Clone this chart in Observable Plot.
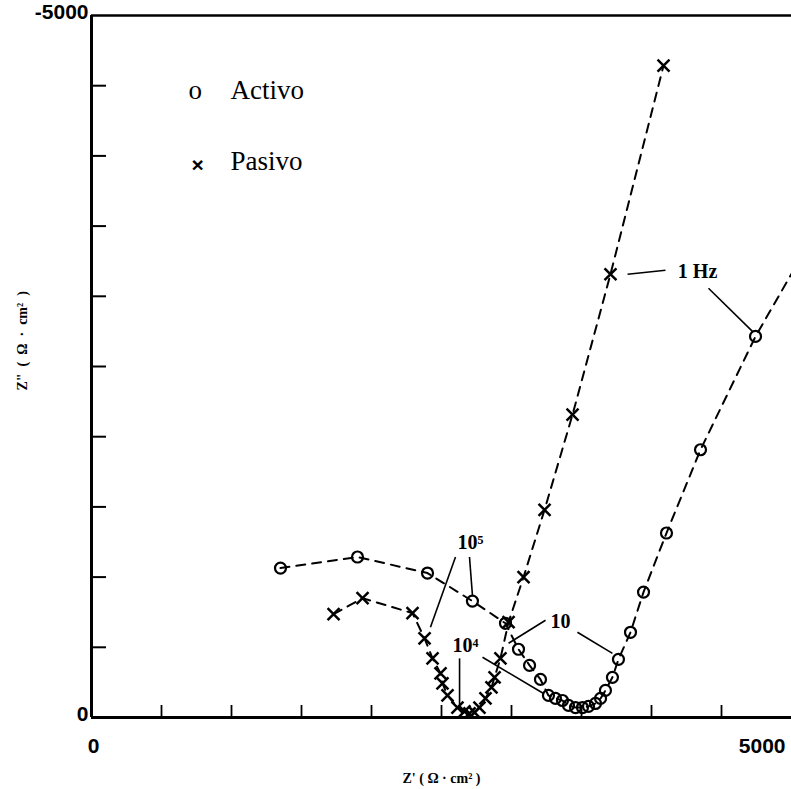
<!DOCTYPE html>
<html>
<head>
<meta charset="utf-8">
<script src="https://cdn.jsdelivr.net/npm/d3@7"></script>
<script src="https://cdn.jsdelivr.net/npm/@observablehq/plot@0.6"></script>
<style>
  html, body { margin: 0; padding: 0; background: #fff; }
</style>
</head>
<body>
<div id="chart"></div>
<script>
// Activo (circles) — Z' and Z'' in Ω·cm²
const activoRe = [1350, 1900, 2400, 2721, 2957, 3050, 3129, 3207, 3264, 3314, 3364, 3407, 3457, 3507, 3550, 3600, 3636, 3671, 3721, 3764, 3850, 3943, 4107, 4350, 4743, 5150];
const activoIm = [-1064, -1143, -1029, -829, -671, -486, -371, -271, -157, -136, -121, -86, -71, -71, -79, -100, -136, -193, -286, -414, -607, -893, -1314, -1907, -2714, -3420];

// Pasivo (crosses)
const pasivoRe = [1729, 1936, 2293, 2379, 2436, 2493, 2507, 2543, 2614, 2664, 2700, 2736, 2771, 2814, 2857, 2879, 2921, 2979, 3086, 3236, 3436, 3707, 4086];
const pasivoIm = [-736, -850, -743, -564, -421, -314, -243, -157, -71, -43, -29, -36, -71, -136, -214, -286, -421, -679, -1000, -1479, -2157, -3157, -4643];

// Axis ticks
const xTicks = [0, 500, 1000, 1500, 2000, 2500, 3000, 3500, 4000, 4500, 5000];
const yTicks = [0, -500, -1000, -1500, -2000, -2500, -3000, -3500, -4000, -4500, -5000];
const xTickLabels = ["0", "5000"];
const xTickLabelValues = [0, 5000];
const yTickLabels = ["0", "-5000"];
const yTickLabelValues = [0, -5000];

// Frequency annotations
const annText = ["1 Hz", "10", "10\u2075", "10\u2074"];
const annRe = [4329, 3350, 2707, 2671];
const annIm = [-3179, -686, -1243, -514];

// Leader lines for annotations
const leadX1 = [3829, 4407, 3243, 3471, 2600, 2700, 2629, 2793];
const leadY1 = [-3157, -3057, -693, -607, -1143, -1143, -421, -429];
const leadX2 = [4100, 4721, 2979, 3721, 2421, 2721, 2629, 3229];
const leadY2 = [-3186, -2750, -529, -457, -643, -871, -71, -171];

// Legend / titles
const seriesNames = ["Activo", "Pasivo"];
const xTitle = "Z' ( \u03A9 \u00B7 cm\u00B2 )";
const yTitle = "Z\"  (  \u03A9  \u00B7  cm\u00B2  )";

const activo = activoRe.map((x, i) => ({x, y: activoIm[i]}));
const pasivo = pasivoRe.map((x, i) => ({x, y: pasivoIm[i]}));
const ann = annText.map((t, i) => ({t, x: annRe[i], y: annIm[i]}));
const leads = leadX1.map((x1, i) => ({x1, y1: leadY1[i], x2: leadX2[i], y2: leadY2[i]}));

const W = 791, H = 789, mL = 91, mR = 0, mT = 15, mB = 72;
const plotW = W - mL - mR, plotH = H - mT - mB;
const serif = "'Liberation Serif', 'Times New Roman', serif";
const sans = "'Liberation Sans', Arial, sans-serif";

const chart = Plot.plot({
  width: W,
  height: H,
  marginLeft: mL,
  marginRight: mR,
  marginTop: mT,
  marginBottom: mB,
  style: {background: "#fff", color: "#000", fontFamily: sans},
  x: {domain: [0, 5000], axis: null},
  y: {domain: [0, -5000], axis: null},
  marks: [
    // frame lines
    Plot.ruleY([-5000], {stroke: "#000", strokeWidth: 2.5}),
    Plot.ruleX([0], {stroke: "#000", strokeWidth: 3}),
    Plot.ruleY([0], {stroke: "#000", strokeWidth: 3}),
    // inward ticks
    Plot.tickX(xTicks.slice(1, -1), {x: d => d, stroke: "#000", strokeWidth: 1.8, insetTop: plotH - 12}),
    Plot.tickY(yTicks.slice(1, -1), {y: d => d, stroke: "#000", strokeWidth: 2, insetRight: plotW - 15}),
    // tick labels
    Plot.text(xTickLabelValues, {x: d => d, frameAnchor: "bottom", text: (d, i) => xTickLabels[i], dy: 29,
      textAnchor: "end", dx: -6, fontSize: 21, fontWeight: "bold", fontFamily: sans, filter: d => d === 5000, lineAnchor: "middle"}),
    Plot.text(xTickLabelValues, {x: d => d, frameAnchor: "bottom", text: (d, i) => xTickLabels[i], dy: 29,
      dx: 2, fontSize: 21, fontWeight: "bold", fontFamily: sans, filter: d => d === 0, lineAnchor: "middle"}),
    Plot.text(yTickLabelValues, {y: d => d, frameAnchor: "left", text: (d, i) => yTickLabels[i],
      textAnchor: "end", dx: -3, dy: -3, fontSize: 21, fontWeight: "bold", fontFamily: sans, lineAnchor: "middle"}),
    // axis titles
    Plot.text([xTitle], {frameAnchor: "bottom", dy: 61, fontSize: 14, fontWeight: "bold", fontFamily: serif, lineAnchor: "middle"}),
    Plot.text([yTitle], {frameAnchor: "left", dx: -69, dy: 24, rotate: -90, fontSize: 14, fontWeight: "bold", fontFamily: serif, lineAnchor: "middle"}),
    // legend
    Plot.text(["o"], {frameAnchor: "top-left", dx: 97, dy: 75, textAnchor: "start", fontSize: 27, fontFamily: serif, lineAnchor: "middle"}),
    Plot.text([seriesNames[0]], {frameAnchor: "top-left", dx: 139, dy: 75, textAnchor: "start", fontSize: 27, fontFamily: serif, lineAnchor: "middle"}),
    Plot.text(["\u00D7"], {frameAnchor: "top-left", dx: 106, dy: 150, textAnchor: "middle", fontSize: 21, fontWeight: "bold", fontFamily: sans, lineAnchor: "middle"}),
    Plot.text([seriesNames[1]], {frameAnchor: "top-left", dx: 139, dy: 146, textAnchor: "start", fontSize: 27, fontFamily: serif, lineAnchor: "middle"}),
    // series lines
    Plot.line(activo, {x: "x", y: "y", stroke: "#000", strokeWidth: 2, strokeDasharray: "9,7", clip: true}),
    Plot.line(pasivo, {x: "x", y: "y", stroke: "#000", strokeWidth: 2, strokeDasharray: "9,7", clip: true}),
    // leader lines
    Plot.link(leads, {x1: "x1", y1: "y1", x2: "x2", y2: "y2", stroke: "#000", strokeWidth: 1.6}),
    // markers
    Plot.dot(activo, {x: "x", y: "y", r: 5.5, stroke: "#000", strokeWidth: 2.2, fill: "none", clip: true}),
    Plot.dot(pasivo, {x: "x", y: "y", r: 5.5, symbol: "times", stroke: "#000", strokeWidth: 2.5, clip: true}),
    // annotations
    Plot.text(ann, {x: "x", y: "y", text: "t", fontSize: 20, fontWeight: "bold", fontFamily: serif, lineAnchor: "middle"})
  ]
});

document.getElementById("chart").appendChild(chart);
</script>
</body>
</html>
